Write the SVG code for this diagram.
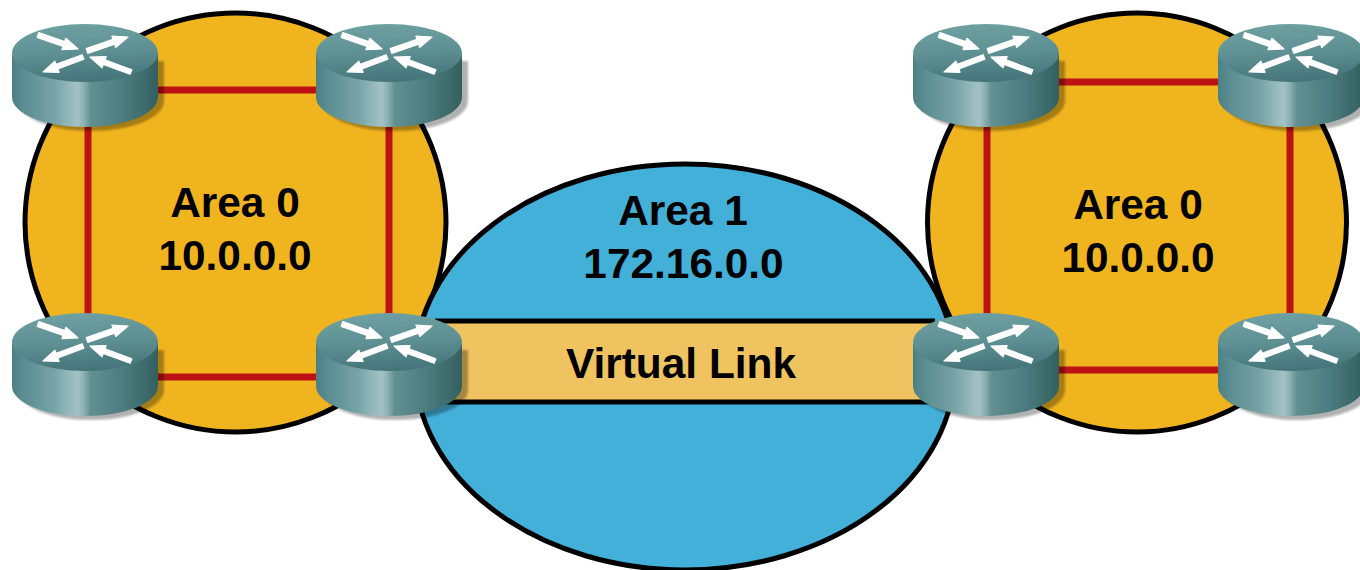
<svg xmlns="http://www.w3.org/2000/svg" width="1360" height="570" viewBox="0 0 1360 570">
<style>
.area{stroke:#000;stroke-width:5}
.orange{fill:#F0B41E}
.blue{fill:#42B0D8}
.link{stroke:#BC1214;stroke-width:7;fill:none}
.edge{stroke:#000;stroke-width:5;fill:none}
.label{font-family:"Liberation Sans",Arial,sans-serif;font-weight:700;font-size:42.4px;fill:#000;text-anchor:middle}
</style>
<defs>
<filter id="soft" x="-5%" y="-5%" width="110%" height="110%"><feGaussianBlur stdDeviation="0.6"/></filter>
<filter id="softer" x="-10%" y="-10%" width="120%" height="120%"><feGaussianBlur stdDeviation="1"/></filter>
<linearGradient id="side" x1="0" x2="1" y1="0" y2="0">
<stop offset="0" stop-color="#4C7F84"/>
<stop offset="0.08" stop-color="#5B8D91"/>
<stop offset="0.28" stop-color="#75A2A5"/>
<stop offset="0.45" stop-color="#A3C3C5"/>
<stop offset="0.49" stop-color="#8DB1B3"/>
<stop offset="0.54" stop-color="#628F92"/>
<stop offset="0.75" stop-color="#4D7D80"/>
<stop offset="1" stop-color="#34605F"/>
</linearGradient>
<linearGradient id="top" x1="0.35" x2="0.5" y1="0" y2="1">
<stop offset="0" stop-color="#6FA1A3"/>
<stop offset="0.5" stop-color="#5E9093"/>
<stop offset="1" stop-color="#447378"/>
</linearGradient>
<g id="router">
<path d="M152 38V78C152 95 119 108 79 108C39 108 6 95 6 78V38Z" fill="#000" opacity="0.3" filter="url(#softer)"/>
<g filter="url(#soft)">
<path d="M0 32V74C0 91 33 104 73 104C113 104 146 91 146 74V32Z" fill="url(#side)"/>
<ellipse cx="73" cy="30" rx="73" ry="29" fill="url(#top)"/>
<g fill="#fff" stroke="#fff" stroke-width="1.2" stroke-linejoin="round">
<polygon points="25.2,14.4 51.1,23.4 49.9,26.7 66,26 53.9,15.3 52.7,18.6 26.8,9.6"/>
<polygon points="75.8,30.4 102.6,21.2 103.7,24.5 116,14 99.9,13.1 101,16.4 74.2,25.6"/>
<polygon points="71.9,36.3 45.9,46 47.1,49.3 31,49 42.9,38.1 44.1,41.4 70.1,31.7"/>
<polygon points="118.1,51.3 91.2,41.5 90,44.8 78,34 94.2,33.6 93,36.9 119.9,46.7"/>
</g>
</g>
</g>
</defs>
<rect width="1360" height="570" fill="#fff"/>
<g id="area0-left"><ellipse class="area orange" cx="235.5" cy="222.5" rx="210.5" ry="209.5"/></g>
<g id="area0-right"><ellipse class="area orange" cx="1137" cy="222.5" rx="209.5" ry="209.5"/></g>
<g id="area1"><ellipse class="area blue" cx="685" cy="367" rx="270" ry="203"/></g>
<g id="virtual-link">
<rect x="435" y="321" width="500" height="81" fill="#EFC35F"/>
<path class="edge" d="M435 321H935M435 402H935"/>
</g>
<g id="connectors">
<path class="link" d="M88 90H389V377H88ZM987 82H1290V370H987Z"/>
</g>
<g id="labels">
<text class="label" x="235" y="217">Area 0</text>
<text class="label" x="235" y="270">10.0.0.0</text>
<text class="label" x="683" y="225">Area 1</text>
<text class="label" x="683.5" y="278">172.16.0.0</text>
<text class="label" x="681" y="378">Virtual Link</text>
<text class="label" x="1138" y="219">Area 0</text>
<text class="label" x="1138" y="272">10.0.0.0</text>
</g>
<g id="router-l1"><use href="#router" x="12" y="23"/></g>
<g id="router-l2"><use href="#router" x="316" y="23"/></g>
<g id="router-l3"><use href="#router" x="12" y="312"/></g>
<g id="router-l4"><use href="#router" x="316" y="312"/></g>
<g id="router-r1"><use href="#router" x="913" y="23"/></g>
<g id="router-r2"><use href="#router" x="1218" y="23"/></g>
<g id="router-r3"><use href="#router" x="913" y="312"/></g>
<g id="router-r4"><use href="#router" x="1218" y="312"/></g>
</svg>
